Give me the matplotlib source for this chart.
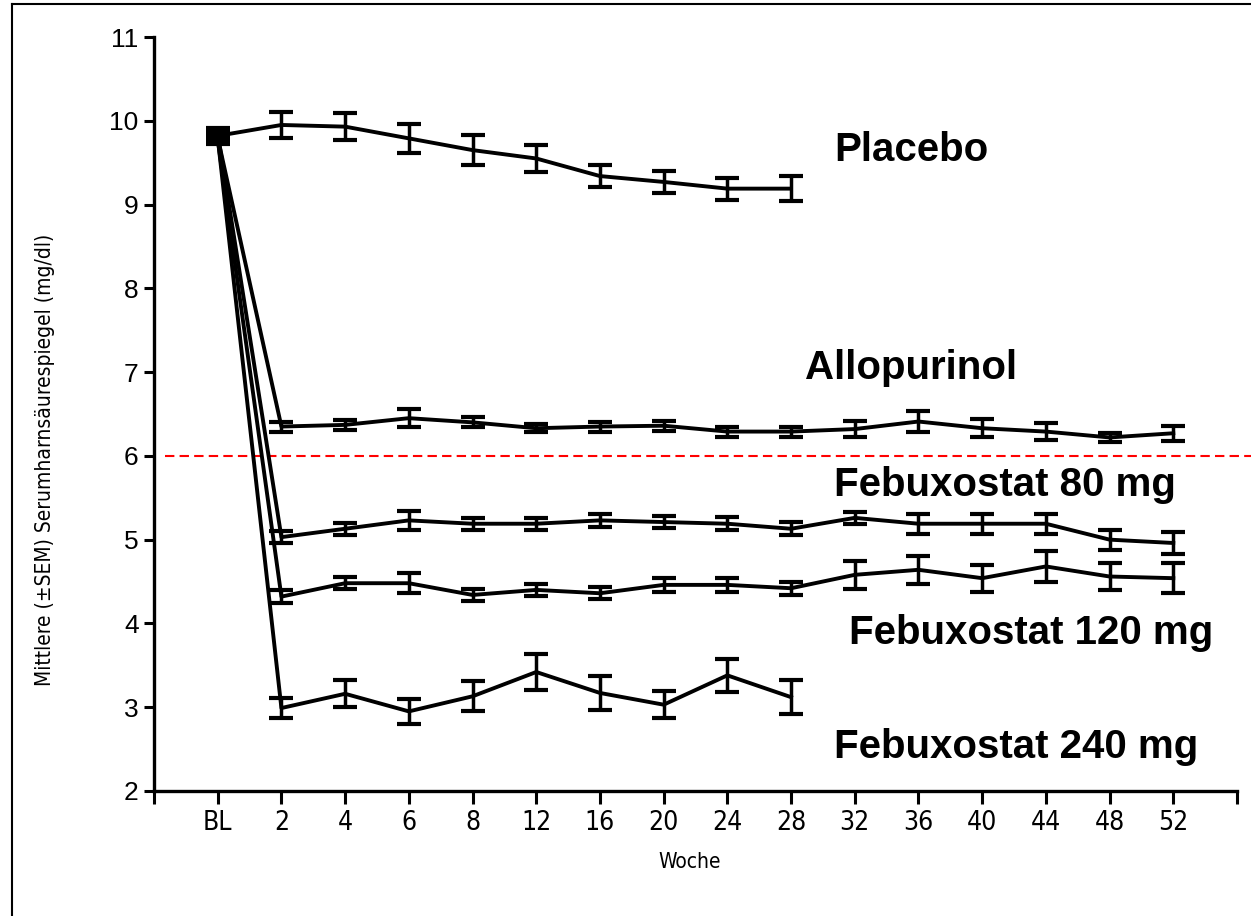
import matplotlib
matplotlib.use('Agg')
import matplotlib.pyplot as plt
from matplotlib.lines import Line2D

# weeks on the x axis (categorical positions)
weeks = ['BL', '2', '4', '6', '8', '12', '16', '20', '24', '28',
         '32', '36', '40', '44', '48', '52']

placebo = [9.82, 9.95, 9.93, 9.79, 9.65, 9.55, 9.34, 9.27, 9.19, 9.19]
placebo_sem = [0.06, 0.16, 0.16, 0.17, 0.18, 0.16, 0.13, 0.13, 0.13, 0.15]

allopurinol = [9.80, 6.35, 6.37, 6.45, 6.40, 6.33, 6.35, 6.36, 6.29, 6.29,
               6.32, 6.41, 6.33, 6.29, 6.22, 6.27]
allopurinol_sem = [0.06, 0.06, 0.06, 0.11, 0.06, 0.05, 0.06, 0.06, 0.06, 0.06,
                   0.10, 0.12, 0.11, 0.10, 0.05, 0.09]

feb80 = [9.85, 5.03, 5.13, 5.23, 5.19, 5.19, 5.23, 5.21, 5.19, 5.13,
         5.26, 5.19, 5.19, 5.19, 5.00, 4.96]
feb80_sem = [0.06, 0.07, 0.07, 0.11, 0.07, 0.07, 0.08, 0.07, 0.08, 0.08,
             0.07, 0.12, 0.12, 0.12, 0.12, 0.13]

feb120 = [9.78, 4.32, 4.48, 4.48, 4.34, 4.40, 4.36, 4.46, 4.46, 4.42,
          4.58, 4.64, 4.54, 4.68, 4.56, 4.54]
feb120_sem = [0.06, 0.08, 0.07, 0.12, 0.07, 0.07, 0.07, 0.08, 0.08, 0.08,
              0.17, 0.17, 0.16, 0.18, 0.16, 0.18]

feb240 = [9.80, 2.99, 3.16, 2.95, 3.13, 3.42, 3.17, 3.03, 3.38, 3.12]
feb240_sem = [0.06, 0.12, 0.16, 0.15, 0.18, 0.22, 0.20, 0.16, 0.20, 0.20]

series = [
    ('Placebo', placebo, placebo_sem, 9.68, 9.65),
    ('Allopurinol', allopurinol, allopurinol_sem, 9.22, 7.05),
    ('Febuxostat 80 mg', feb80, feb80_sem, 9.68, 5.65),
    ('Febuxostat 120 mg', feb120, feb120_sem, 9.91, 3.88),
    ('Febuxostat 240 mg', feb240, feb240_sem, 9.68, 2.52),
]

narrow = dict(family='DejaVu Sans', stretch='condensed')

fig = plt.figure(figsize=(12.51, 9.16), dpi=100)
ax = fig.add_axes([0.1231, 0.1365, 0.8657, 0.8231])

for name, vals, sem, tx, ty in series:
    x = list(range(len(vals)))
    ax.errorbar(x, vals, yerr=sem, color='black', lw=2.8, elinewidth=2.5,
                capsize=8.5, capthick=3, zorder=3)
    ax.text(tx, ty, name, fontsize=29, fontweight='bold', family='Liberation Sans',
            ha='left', va='center')

ax.axhline(6, xmin=0.01, xmax=1.013, color='red', lw=1.5, dashes=(4.5, 2.5),
           clip_on=False, zorder=2)

ax.set_xlim(-1, 16)
ax.set_ylim(2, 11)
ax.set_xticks(range(len(weeks)))
ax.set_xticklabels(weeks, fontsize=19, **narrow)
ax.set_xticks([-1, 16], minor=True)
ax.set_yticks(range(2, 12))
ax.set_yticklabels([str(v) for v in range(2, 12)], family='Liberation Sans', fontsize=19)
ax.tick_params(axis='x', which='both', direction='out', length=9, width=2.2, pad=5)
ax.tick_params(axis='y', direction='out', length=7, width=2.2, pad=4)
for s in ['top', 'right']:
    ax.spines[s].set_visible(False)
for s in ['left', 'bottom']:
    ax.spines[s].set_linewidth(2.4)

fig.text(0.036, 0.498, 'Mittlere (\u00b1SEM) Serumharns\u00e4urespiegel (mg/dl)',
         rotation=90, ha='center', va='center', fontsize=15, **narrow)
fig.text(0.5516, 0.059, 'Woche', ha='center', va='center', fontsize=15, **narrow)

# frame of the scanned figure
fig.add_artist(Line2D([12 / 1251, 12 / 1251], [0, 1 - 4 / 916], color='black', lw=1.5))
fig.add_artist(Line2D([12 / 1251, 1], [1 - 4 / 916, 1 - 4 / 916], color='black', lw=1.5))

fig.savefig('out.png', dpi=100)
